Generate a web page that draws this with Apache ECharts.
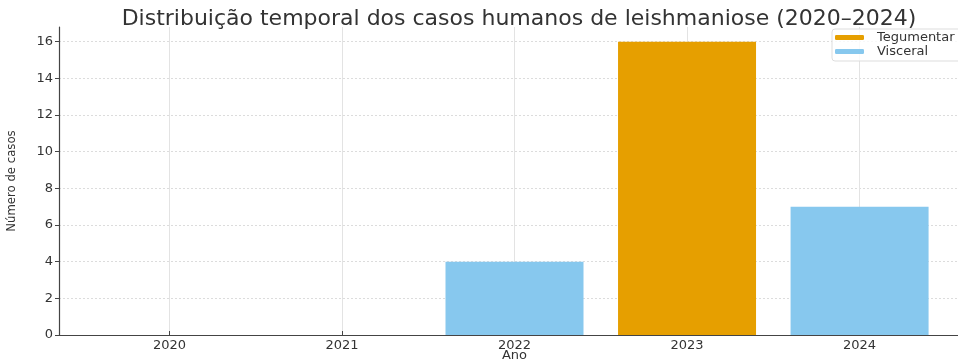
<!DOCTYPE html>
<html>
<head>
<meta charset="utf-8">
<script src="https://cdn.jsdelivr.net/npm/echarts@6/dist/echarts.min.js"></script>
<style>
  html, body { margin: 0; padding: 0; background: #fff; }
  #chart { width: 958px; height: 361px; }
</style>
</head>
<body>
<div id="chart"></div>
<script>
// data
const years = ['2020', '2021', '2022', '2023', '2024']
const tegumentar = [0, 0, 0, 16, 0]
const visceral = [0, 0, 4, 0, 7]
const yTicks = [0, 2, 4, 6, 8, 10, 12, 14, 16]

const positions = years.map((y, i) => i)
const toPairs = arr => arr.map((v, i) => [i, v])

const chart = echarts.init(document.getElementById('chart'))
const font = 'DejaVu Sans'
const option = {
  animation: false,
  title: {
    text: 'Distribuição temporal dos casos humanos de leishmaniose (2020–2024)',
    left: 514,
    textAlign: 'center',
    top: 3,
    textStyle: { fontFamily: font, fontSize: 22, fontWeight: 'normal', color: '#333' },
  },
  legend: {
    left: 832,
    top: 29,
    orient: 'vertical',
    itemWidth: 29,
    itemHeight: 5,
    itemGap: 1,
    padding: [2, 8, 3, 3],
    borderColor: '#ddd',
    borderWidth: 1,
    borderRadius: 3,
    backgroundColor: 'rgba(255,255,255,0.8)',
    textStyle: { fontFamily: font, fontSize: 13, color: '#333', padding: [0, 0, 0, 8] },
    data: ['Tegumentar', 'Visceral'],
  },
  grid: {
    left: 59,
    width: 911,
    top: 27,
    bottom: 26,
    outerBoundsMode: 'none',
  },
  xAxis: {
    type: 'value',
    min: -0.64,
    max: 4.64,
    name: 'Ano',
    nameLocation: 'middle',
    nameGap: 14,
    nameMoveOverlap: false,
    nameTextStyle: { fontFamily: font, fontSize: 13, color: '#333' },
    axisLine: { lineStyle: { color: '#444', width: 1.2 } },
    axisTick: { customValues: positions, inside: true, length: 4, lineStyle: { color: '#444' } },
    axisLabel: {
      customValues: positions,
      formatter: v => years[Math.round(v)],
      fontFamily: font,
      fontSize: 13,
      color: '#333',
      margin: 4,
    },
    splitLine: { show: false },
  },
  yAxis: {
    type: 'value',
    min: 0,
    max: 16.8,
    interval: 2,
    name: 'Número de casos',
    nameLocation: 'middle',
    nameGap: 41,
    nameMoveOverlap: false,
    nameTextStyle: { fontFamily: 'Liberation Sans Narrow, DejaVu Sans Condensed, sans-serif', fontSize: 13, color: '#333' },
    axisLine: { show: true, onZero: false, lineStyle: { color: '#444', width: 1.2 } },
    axisTick: { show: true, customValues: yTicks, length: 4, lineStyle: { color: '#444' } },
    axisLabel: {
      customValues: yTicks,
      fontFamily: font,
      fontSize: 13,
      color: '#333',
      margin: 6,
    },
    splitLine: { lineStyle: { color: '#dcdcdc', type: [2, 2] } },
  },
  series: [
    {
      name: 'Tegumentar',
      type: 'bar',
      stack: 'total',
      barWidth: 138,
      itemStyle: { color: '#E69F00' },
      data: toPairs(tegumentar),
      markLine: {
        silent: true,
        symbol: 'none',
        label: { show: false },
        lineStyle: { color: '#e3e3e3', type: 'solid', width: 1 },
        z: 0,
        data: positions.map(p => ({ xAxis: p })),
      },
    },
    {
      name: 'Visceral',
      type: 'bar',
      stack: 'total',
      barWidth: 138,
      itemStyle: { color: '#87C8EE' },
      data: toPairs(visceral),
    },
  ],
}
chart.setOption(option)
</script>
</body>
</html>
